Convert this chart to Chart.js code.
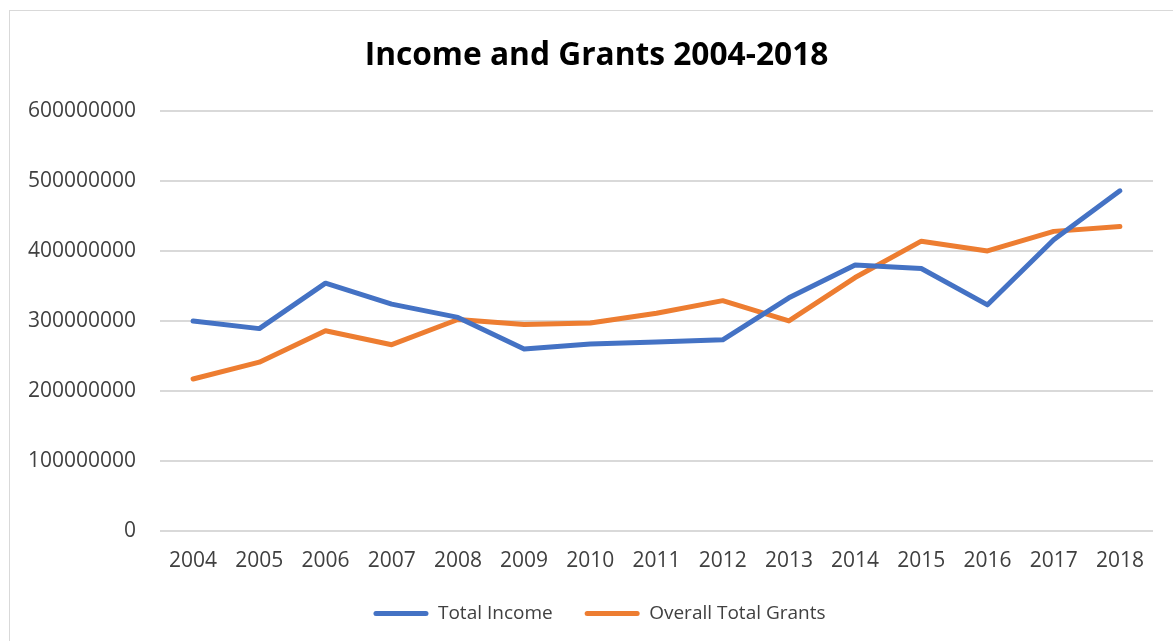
<!DOCTYPE html>
<html>
<head>
<meta charset="utf-8">
<script src="https://cdn.jsdelivr.net/npm/chart.js@4.4.1/dist/chart.umd.min.js"></script>
<style>
  html, body { margin: 0; padding: 0; background: #fff; overflow: hidden; }
  #wrap { position: absolute; left: 0; top: 0; width: 1173px; height: 641px; overflow: hidden; }
  #frame { position: absolute; left: 9px; top: 10px; width: 1200px; height: 700px; border: 1px solid #D9D9D9; box-sizing: border-box; }
  canvas { position: absolute; left: 0; top: 0; }
</style>
</head>
<body>
<div id="wrap">
  <div id="frame"></div>
  <canvas id="c" width="1173" height="641"></canvas>
</div>
<script>
const years = ["2004","2005","2006","2007","2008","2009","2010","2011","2012","2013","2014","2015","2016","2017","2018"];
const totalIncome = [300000000, 289000000, 354000000, 324000000, 305000000, 260000000, 267000000, 270000000, 273000000, 333000000, 380000000, 375000000, 323000000, 416000000, 486000000];
const overallTotalGrants = [217000000, 241000000, 286000000, 266000000, 302000000, 295000000, 297000000, 311000000, 329000000, 300000000, 362000000, 414000000, 400000000, 428000000, 435000000];
const yTicks = [0, 100000000, 200000000, 300000000, 400000000, 500000000, 600000000];
const titleText = "Income and Grants 2004-2018";

const FONT = "'Open Sans', 'DejaVu Sans', sans-serif";
const TEXT = "#404040";
const LEGEND_PAD = 32;

const shiftBlocks = {
  id: 'shiftBlocks',
  afterLayout(chart) {
    const lg = chart.legend;
    if (lg) { lg.left += 18; lg.right += 18; }
    const tb = chart.titleBlock;
    if (tb) { tb.left += 15; tb.right += 15; }
  }
};

new Chart(document.getElementById('c'), {
  type: 'line',
  data: {
    labels: years,
    datasets: [
      { label: 'Total Income', data: totalIncome, borderColor: '#4472C4', backgroundColor: '#4472C4', borderWidth: 5, pointRadius: 0, tension: 0, borderCapStyle: 'round', borderJoinStyle: 'round' },
      { label: 'Overall Total Grants', data: overallTotalGrants, borderColor: '#ED7D31', backgroundColor: '#ED7D31', borderWidth: 5, pointRadius: 0, tension: 0, borderCapStyle: 'round', borderJoinStyle: 'round' }
    ]
  },
  plugins: [shiftBlocks],
  options: {
    responsive: false,
    animation: false,
    layout: { padding: { left: 10, right: 20, top: 37, bottom: 8 } },
    plugins: {
      title: {
        display: true, text: titleText, color: '#000',
        font: { family: FONT, size: 31.7, weight: 'bold' },
        padding: { top: 0, bottom: 36 }
      },
      legend: {
        position: 'bottom',
        labels: {
          color: TEXT, font: { family: FONT, size: 19 },
          boxWidth: 55, boxHeight: 5, padding: LEGEND_PAD,
          generateLabels: (chart) => Chart.defaults.plugins.legend.labels.generateLabels(chart).map(l => Object.assign(l, { lineWidth: 0, borderRadius: 2.5 }))
        }
      },
      tooltip: { enabled: false }
    },
    scales: {
      x: {
        offset: true,
        afterFit: (s) => { s.height = s.height - (LEGEND_PAD - 12); },
        grid: { display: false, drawTicks: false },
        border: { display: false },
        ticks: { color: TEXT, font: { family: FONT, size: 21 }, padding: 18, maxRotation: 0 }
      },
      y: {
        min: 0, max: 600000000,
        afterBuildTicks: (s) => { s.ticks = yTicks.map(v => ({ value: v })); },
        afterFit: (s) => { s.width = 150; },
        grid: { color: '#D9D9D9', lineWidth: 2, drawTicks: false },
        border: { display: false },
        ticks: { color: TEXT, font: { family: FONT, size: 21 }, padding: 24, callback: (v) => String(v) }
      }
    }
  }
});
</script>
</body>
</html>
